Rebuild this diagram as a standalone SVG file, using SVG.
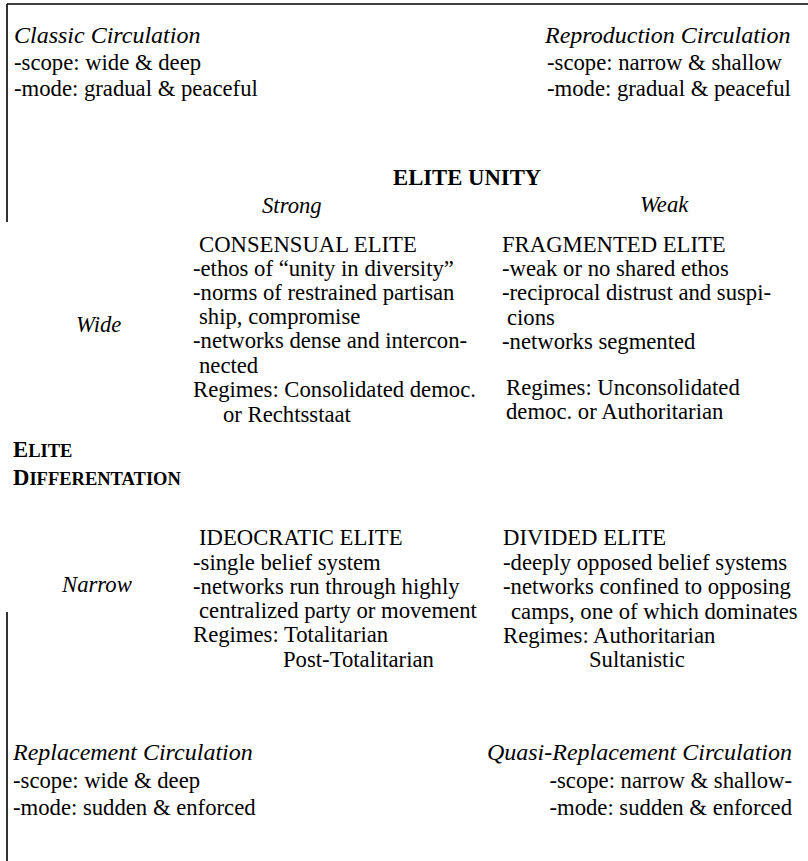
<svg xmlns="http://www.w3.org/2000/svg" width="808" height="861" viewBox="0 0 808 861" font-family="'Liberation Serif','Times New Roman',serif">
<style>
text{font-family:"Liberation Serif","Times New Roman",serif;fill:#000;font-size:22.7px}
.it{font-style:italic}
.ti{font-style:italic;font-size:24px}
.b{font-weight:bold}
.sc{font-size:18.5px}
.ln{stroke:#000;stroke-width:1.6;fill:none}
</style>
<rect width="808" height="861" fill="#fff"/>
<g id="lines">
<path class="ln" d="M7,4 H808 M7,4 V222 M7,612 V861"/>
</g>
<g id="classic">
<text class="ti" x="14" y="43">Classic Circulation</text>
<text x="14" y="70">-scope: wide &amp; deep</text>
<text x="14" y="96">-mode: gradual &amp; peaceful</text>
</g>
<g id="reproduction">
<text class="ti" x="545" y="43">Reproduction Circulation</text>
<text x="547" y="70">-scope: narrow &amp; shallow</text>
<text x="547" y="96">-mode: gradual &amp; peaceful</text>
</g>
<g id="unity-header">
<text class="b" x="393" y="185" font-size="23.5">ELITE UNITY</text>
<text class="it" x="262" y="213">Strong</text>
<text class="it" x="640" y="212">Weak</text>
</g>
<g id="differentiation-header">
<text class="b" x="13" y="457">E<tspan class="sc">LITE</tspan></text>
<text class="b" x="13" y="485">D<tspan class="sc">IFFERENTATION</tspan></text>
<text class="it" x="76" y="332">Wide</text>
<text class="it" x="62" y="592">Narrow</text>
</g>
<g id="consensual">
<text x="199" y="252">CONSENSUAL ELITE</text>
<text x="193" y="276">-ethos of “unity in diversity”</text>
<text x="193" y="300">-norms of restrained partisan</text>
<text x="199" y="324">ship, compromise</text>
<text x="193" y="348">-networks dense and intercon-</text>
<text x="199" y="373">nected</text>
<text x="193" y="397">Regimes: Consolidated democ.</text>
<text x="223" y="422">or Rechtsstaat</text>
</g>
<g id="fragmented">
<text x="502" y="252">FRAGMENTED ELITE</text>
<text x="502" y="276">-weak or no shared ethos</text>
<text x="502" y="300">-reciprocal distrust and suspi-</text>
<text x="507" y="325">cions</text>
<text x="502" y="349">-networks segmented</text>
<text x="506" y="395">Regimes: Unconsolidated</text>
<text x="506" y="419">democ. or Authoritarian</text>
</g>
<g id="ideocratic">
<text x="199" y="545">IDEOCRATIC ELITE</text>
<text x="193" y="570">-single belief system</text>
<text x="193" y="594">-networks run through highly</text>
<text x="199" y="618">centralized party or movement</text>
<text x="193" y="642">Regimes: Totalitarian</text>
<text x="283" y="667">Post-Totalitarian</text>
</g>
<g id="divided">
<text x="503" y="545">DIVIDED ELITE</text>
<text x="503" y="570">-deeply opposed belief systems</text>
<text x="503" y="594">-networks confined to opposing</text>
<text x="511" y="619">camps, one of which dominates</text>
<text x="503" y="643">Regimes: Authoritarian</text>
<text x="589" y="667">Sultanistic</text>
</g>
<g id="replacement">
<text class="ti" x="13" y="760">Replacement Circulation</text>
<text x="13" y="788">-scope: wide &amp; deep</text>
<text x="13" y="815">-mode: sudden &amp; enforced</text>
</g>
<g id="quasi-replacement">
<text class="ti" x="792" y="760" text-anchor="end">Quasi-Replacement Circulation</text>
<text x="792" y="788" text-anchor="end">-scope: narrow &amp; shallow-</text>
<text x="792" y="815" text-anchor="end">-mode: sudden &amp; enforced</text>
</g>
</svg>
